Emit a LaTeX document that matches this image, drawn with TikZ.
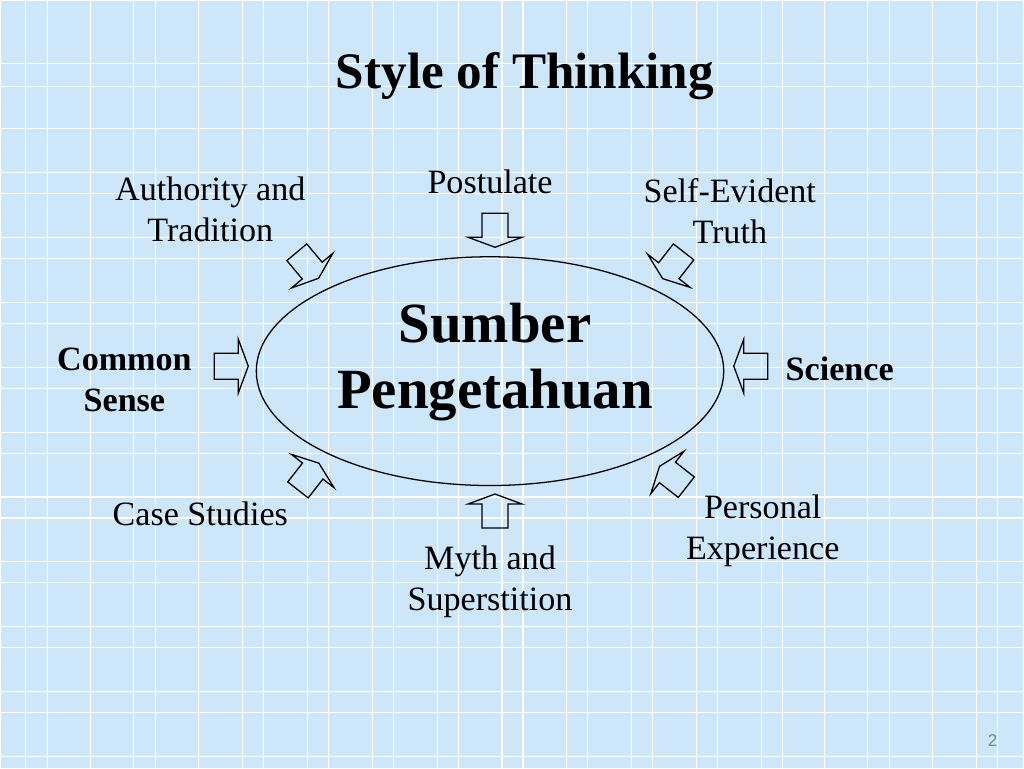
\documentclass[tikz,border=0pt]{standalone}
\usepackage{fontspec}
\setmainfont{Liberation Serif}
\setsansfont{Liberation Sans}
\usetikzlibrary{shapes.geometric}
\definecolor{slidebg}{RGB}{205,230,250}
\definecolor{pagenum}{RGB}{112,146,112}

\begin{document}
\begin{tikzpicture}[
  x=0.703125pt, y=-0.703125pt,
  lbl/.style={font=\fontsize{24}{29}\selectfont, align=center, inner sep=0pt},
  lblb/.style={lbl, font=\bfseries\fontsize{24}{29}\selectfont},
  barrow/.style={draw=black, line width=0.9pt, line join=miter},
  gridline/.style={white, line width=0.75pt}
]
\fill[slidebg] (0,0) rectangle (1024,768);
\foreach \x in {25,47,90,133,155,198,242,263,307,328,372,393,437,458,502,523,567,588,632,653,697,718,762,783,825,868,890,933,977,998}{\draw[gridline] (\x,0) -- (\x,768);}
\foreach \y in {63,86,128,172,193,237,258,302,323,367,388,432,453,497,518,562,583,627,648,692,713,757}{\draw[gridline] (0,\y) -- (1024,\y);}
\useasboundingbox (0,0) rectangle (1024,768);

\node[font=\bfseries\fontsize{36}{43}\selectfont, inner sep=0pt] (title) at (525,76) {Style of Thinking};
\node[draw, ellipse, line width=0.9pt, minimum width=329pt, minimum height=161pt, inner sep=0pt] (src) at (490,371) {};
\node[lbl, font=\bfseries\fontsize{40}{47}\selectfont] (srctxt) at (495,362) {Sumber\\Pengetahuan};

\node[lbl] (post) at (490,181) {Postulate};
\node[lbl] (auth) at (210,209) {Authority and\\Tradition};
\node[lbl] (self) at (730,211) {Self-Evident\\Truth};
\node[lblb] (comm) at (124,380) {Common\\Sense};
\node[lblb] (sci) at (840,369) {Science};
\node[lbl] (case) at (200,514) {Case Studies};
\node[lbl] (pers) at (763,531) {Personal\\Experience};
\node[lbl] (myth) at (490,582) {Myth and\\Superstition};
\node[font=\sffamily\fontsize{12}{14}\selectfont, text=pagenum, inner sep=0pt] (pg) at (993,741) {2};

\foreach \x/\y/\a in {495/230/-90, 231/366/0, 751/366/180, 495/511/90, 307.5/265/-50, 673.3/265/-128, 308.2/476.5/52, 673.1/476.7/142}{
  \draw[barrow, shift={(\x,\y)}, rotate=\a] (-17,-13) -- (7,-13) -- (7,-27) -- (17,0) -- (7,27) -- (7,13) -- (-17,13) -- cycle;}
\end{tikzpicture}
\end{document}
